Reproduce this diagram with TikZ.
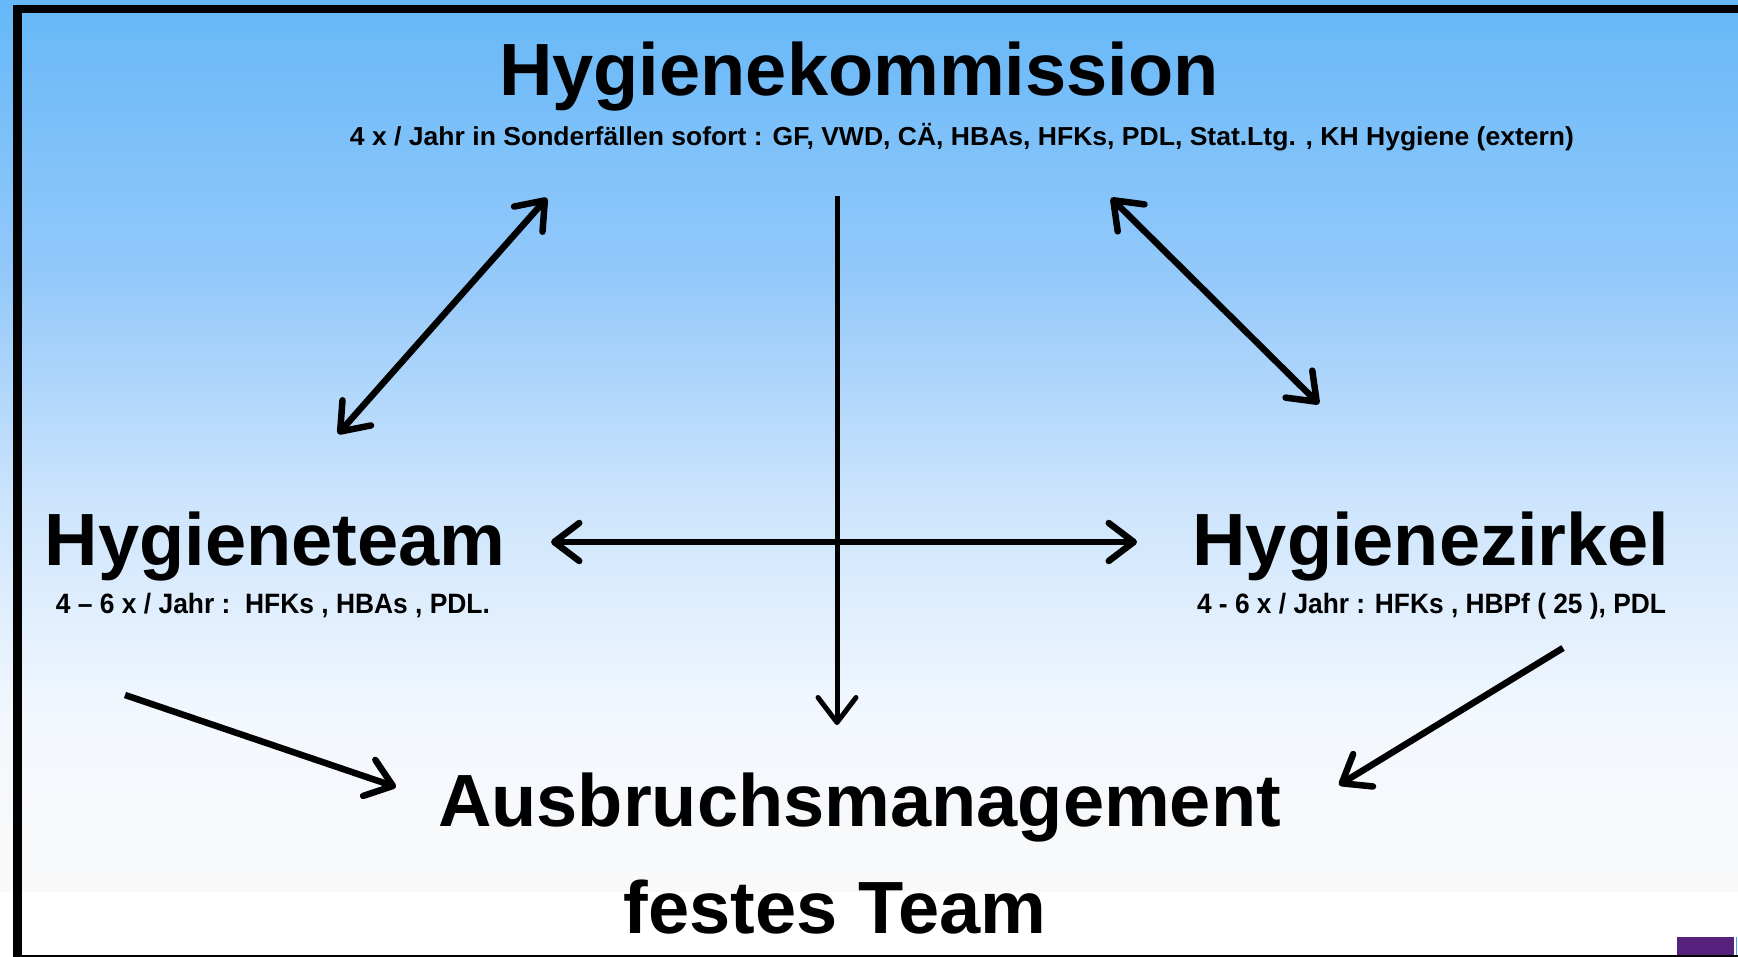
\documentclass[tikz,border=0pt]{standalone}
\usepackage{fontspec}
\setmainfont{Liberation Sans}
\usetikzlibrary{arrows.meta}
\definecolor{bgtop}{RGB}{102,184,248}
\definecolor{bgA}{RGB}{148,201,250}
\definecolor{bgB}{RGB}{204,228,252}
\definecolor{bgC}{RGB}{243,248,254}
\definecolor{bgbot}{RGB}{249,249,249}
\definecolor{purp}{RGB}{86,33,124}
\definecolor{edgeblue}{RGB}{60,170,230}
\tikzset{
  title/.style={font=\fontsize{74}{88}\selectfont\bfseries, inner sep=0pt, anchor=base},
  sub/.style={font=\bfseries, inner sep=0pt, anchor=base},
  barb/.tip={Straight Barb[length=25pt,width=38pt,line cap=round,line join=round]},
  arr/.style={line width=6.5pt, -barb},
  darr/.style={line width=6.5pt, barb-barb},
}
\newcommand{\subtext}[3]{\resizebox{#1}{\height}{\fontsize{#2}{#2}\selectfont #3}}
\begin{document}
\begin{tikzpicture}[x=1pt,y=-1pt]
\useasboundingbox (0,0) rectangle (1738,957);
% background
\shade[top color=bgtop, bottom color=bgA] (0,0) rectangle (1738,278);
\shade[top color=bgA, bottom color=bgB] (0,277) rectangle (1738,500);
\shade[top color=bgB, bottom color=bgC] (0,499) rectangle (1738,721);
\shade[top color=bgC, bottom color=bgbot] (0,720) rectangle (1738,892);
\fill[white] (0,892) rectangle (1738,957);
% frame
\fill[black] (13,5) rectangle (1738,13);
\fill[black] (13,5) rectangle (22,957);
\fill[black] (13,954.5) rectangle (1738,956.5);
\fill[purp] (1677,937) rectangle (1734,954.5);
\fill[edgeblue] (1735.5,937) rectangle (1737,954.5);

% titles
\node[title] (komm) at (859,96) {Hygienekommission};
\node[sub] (kommsub) at (962,146) {\subtext{1224pt}{26}{4 x / Jahr in Sonderfällen sofort : GF, VWD, CÄ, HBAs, HFKs, PDL, Stat.Ltg. , KH Hygiene (extern)}};
\node[title] (team) at (275,565) {Hygieneteam};
\node[sub] (teamsub) at (273,613) {\subtext{434pt}{28}{4 – 6 x / Jahr :\ \ HFKs , HBAs , PDL.}};
\node[title] (zirkel) at (1431,565) {Hygienezirkel};
\node[sub] (zirkelsub) at (1431.5,613) {\subtext{469pt}{28}{4 - 6 x / Jahr : HFKs , HBPf ( 25 ), PDL}};
\node[title] (ausbruch) at (859.5,826) {Ausbruchsmanagement};
\node[title] (festes) at (835,933) {festes Team};

% connector end points
\coordinate (ulA) at (338,434);
\coordinate (ulB) at (547,198);
\coordinate (urA) at (1111,198);
\coordinate (urB) at (1319,404);
\coordinate (hL) at (551,542);
\coordinate (hR) at (1137,542);
\coordinate (vT) at (837,196);
\coordinate (vB) at (837,725);
\coordinate (llA) at (125,695);
\coordinate (llB) at (396,787);
\coordinate (lrA) at (1563,648);
\coordinate (lrB) at (1339,785);

% connectors
\draw[darr] (ulA) -- (ulB);
\draw[darr] (urA) -- (urB);
\draw[darr] (hL) -- (hR);
\draw[arr, line width=5pt] (vT) -- (vB);
\draw[arr] (llA) -- (llB);
\draw[arr] (lrA) -- (lrB);
\end{tikzpicture}
\end{document}
